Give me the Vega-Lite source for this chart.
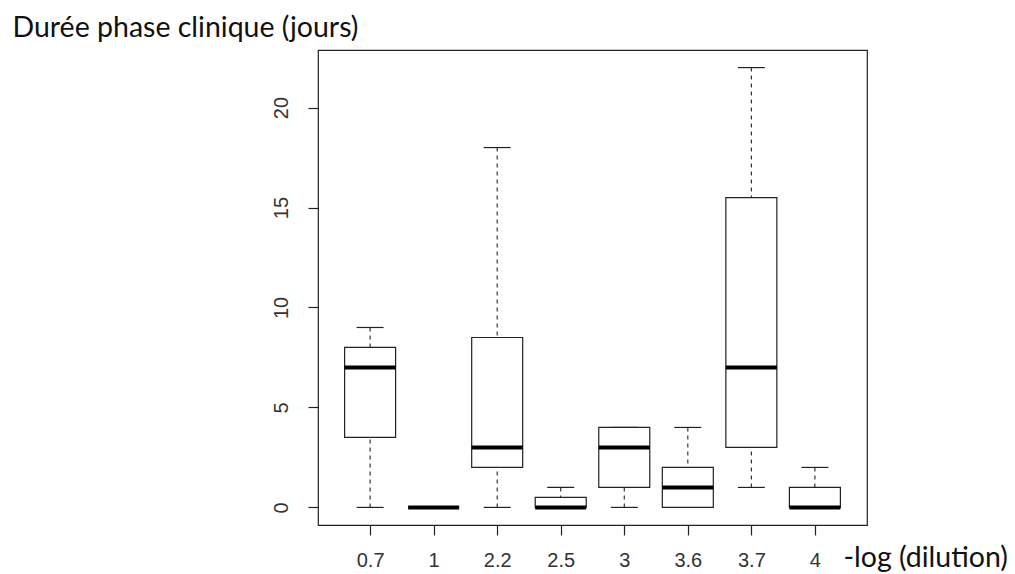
{
  "$schema": "https://vega.github.io/schema/vega-lite/v6.json",
  "width": 549,
  "height": 475,
  "autosize": {"type": "none"},
  "padding": {"left": 318, "top": 50, "right": 148, "bottom": 49},
  "background": "white",
  "config": {
    "view": {"stroke": "#222", "strokeWidth": 1.2},
    "font": "Liberation Sans",
    "axis": {"labelFontSize": 20, "labelFont": "Liberation Sans"}
  },
  "data": {
    "values": [
      {"dilution": "0.7", "min": 0, "q1": 3.5, "median": 7, "q3": 8, "max": 9},
      {"dilution": "1", "min": 0, "q1": 0, "median": 0, "q3": 0, "max": 0},
      {"dilution": "2.2", "min": 0, "q1": 2, "median": 3, "q3": 8.5, "max": 18},
      {"dilution": "2.5", "min": 0, "q1": 0, "median": 0, "q3": 0.5, "max": 1},
      {"dilution": "3", "min": 0, "q1": 1, "median": 3, "q3": 4, "max": 4},
      {"dilution": "3.6", "min": 0, "q1": 0, "median": 1, "q3": 2, "max": 4},
      {"dilution": "3.7", "min": 1, "q1": 3, "median": 7, "q3": 15.5, "max": 22},
      {"dilution": "4", "min": 0, "q1": 0, "median": 0, "q3": 1, "max": 2}
    ]
  },
  "encoding": {
    "x": {
      "field": "dilution",
      "type": "ordinal",
      "sort": null,
      "scale": {"type": "point", "padding": 0.82},
      "axis": {
        "labelAngle": 0,
        "tickSize": 10,
        "tickColor": "#222",
        "tickWidth": 1.2,
        "labelPadding": 15,
        "labelFontSize": 20,
        "labelColor": "#333",
        "domain": false,
        "grid": false,
        "title": "-log (dilution)",
        "titleFont": "Lato",
        "titleFontSize": 28.5,
        "titleFontWeight": "normal",
        "titleColor": "#111",
        "titleAlign": "left",
        "titleBaseline": "alphabetic",
        "titleX": 525,
        "titleY": 41
      }
    }
  },
  "layer": [
    {
      "mark": {"type": "rule", "strokeDash": [4, 4], "color": "#222", "strokeWidth": 1.1},
      "encoding": {
        "y": {
          "field": "max",
          "type": "quantitative",
          "title": "Durée phase clinique (jours)",
          "scale": {"domain": [-0.88, 22.88], "nice": false, "zero": false},
          "axis": {
            "values": [0, 5, 10, 15, 20],
            "tickSize": 10,
            "tickColor": "#222",
            "tickWidth": 1.2,
            "labelAngle": 270,
            "labelAlign": "center",
            "labelBaseline": "middle",
            "labelPadding": 27,
            "labelFontSize": 20,
            "labelColor": "#333",
            "domain": false,
            "grid": false,
            "titleAngle": 0,
            "titleFont": "Lato",
            "titleFontSize": 28.5,
            "titleFontWeight": "normal",
            "titleColor": "#111",
            "titleAlign": "left",
            "titleBaseline": "alphabetic",
            "titleX": -306,
            "titleY": -14
          }
        },
        "y2": {"field": "q3"}
      }
    },
    {
      "mark": {"type": "rule", "strokeDash": [4, 4], "color": "#222", "strokeWidth": 1.1},
      "encoding": {
        "y": {"field": "min", "type": "quantitative", "title": "Durée phase clinique (jours)"},
        "y2": {"field": "q1"}
      }
    },
    {
      "mark": {"type": "tick", "size": 27, "thickness": 1.2, "color": "#222", "opacity": 1},
      "encoding": {
        "y": {"field": "max", "type": "quantitative", "title": "Durée phase clinique (jours)"}
      }
    },
    {
      "mark": {"type": "tick", "size": 27, "thickness": 1.2, "color": "#222", "opacity": 1},
      "encoding": {
        "y": {"field": "min", "type": "quantitative", "title": "Durée phase clinique (jours)"}
      }
    },
    {
      "mark": {"type": "bar", "size": 51, "fill": "white", "stroke": "#222", "strokeWidth": 1.2},
      "encoding": {
        "y": {"field": "q1", "type": "quantitative", "title": "Durée phase clinique (jours)"},
        "y2": {"field": "q3"}
      }
    },
    {
      "mark": {"type": "tick", "size": 51, "thickness": 4, "color": "black", "opacity": 1},
      "encoding": {
        "y": {"field": "median", "type": "quantitative", "title": "Durée phase clinique (jours)"}
      }
    }
  ]
}
